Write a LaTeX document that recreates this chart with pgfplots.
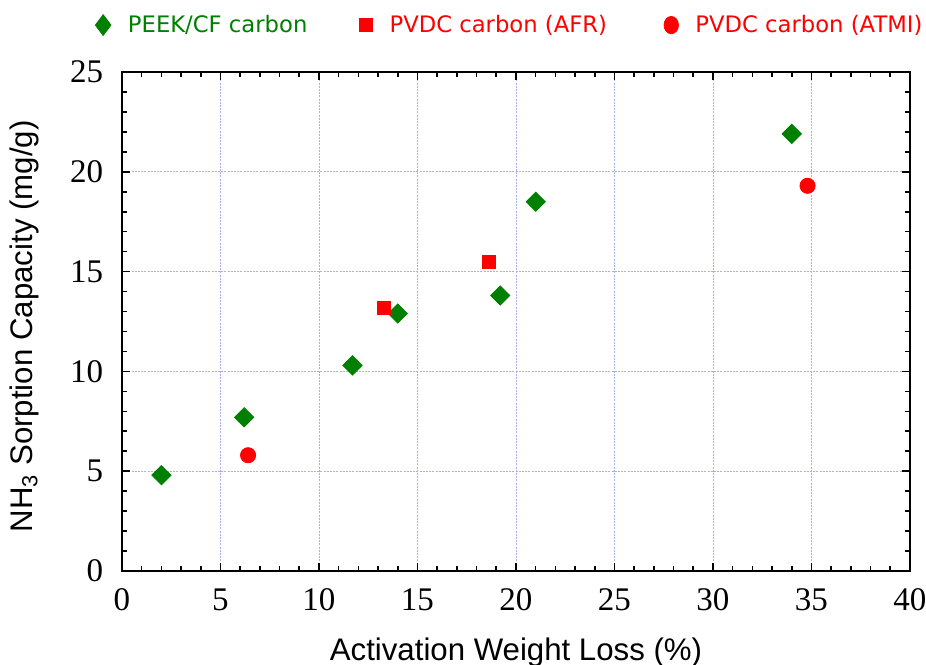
\documentclass[border=0pt]{standalone}
\usepackage{fontspec}
\setmainfont{Liberation Sans}
\newfontfamily\tickfont{Liberation Serif}
\newfontfamily\legfont{DejaVu Sans}
\usepackage{pgfplots}
\pgfplotsset{compat=1.18}
\definecolor{peek}{RGB}{0,128,0}
\definecolor{pvdc}{RGB}{255,0,0}
\definecolor{gridc}{RGB}{172,172,242}
\begin{document}
\begin{tikzpicture}
\useasboundingbox (-61pt,-46.5pt) rectangle (402pt,285.5pt);
\begin{axis}[
  at={(0,0)}, anchor=south west,
  scale only axis, width=394pt, height=249.5pt,
  xmin=0, xmax=40, ymin=0, ymax=25,
  xtick={0,5,...,40}, ytick={0,5,...,25},
  minor x tick num=4, minor y tick num=4,
  tick align=inside, tick pos=both,
  major tick length=4pt, minor tick length=2.5pt,
  axis line style={line width=1.3pt},
  every tick/.append style={black, line width=0.8pt},
  grid=major,
  major grid style={gridc, line width=0.45pt, dash pattern=on 1pt off 0.6pt},
  /pgf/number format/assume math mode=true,
  tick label style={font=\fontsize{16.5}{18}\tickfont, inner sep=0pt},
  xticklabel shift=8.5pt, yticklabel shift=9.25pt,
  xlabel={Activation Weight Loss (\%)},
  ylabel={NH\textsubscript{3} Sorption Capacity (mg/g)},
  label style={font=\fontsize{15.6}{17}\selectfont},
  xlabel style={at={(axis description cs:0.5,0)}, anchor=base, yshift=-44.5pt},
  ylabel style={at={(axis description cs:-0.1142,0.49)}, anchor=base, rotate=0},
  legend image code/.code={\draw[#1] plot coordinates {(0pt,0pt)};},
  legend columns=3,
  legend style={draw=none, fill=none, inner sep=0pt, nodes={inner sep=0pt},
    font=\fontsize{11.35}{13}\legfont,
    at={(-0.0343,1.094)}, anchor=west,
    /tikz/every odd column/.style={column sep=8.5pt},
    /tikz/column 2/.style={column sep=26pt},
    /tikz/column 4/.style={column sep=28.5pt}},
]
\addlegendimage{only marks, mark=diamond*, mark size=5.2pt, color=peek}
\addlegendimage{only marks, mark=square*, mark size=3.3pt, color=pvdc}
\addlegendimage{only marks, mark=*, mark size=3.6pt, mark options={yscale=1.2}, color=pvdc}
\legend{\textcolor{peek}{PEEK/CF carbon}, \textcolor{pvdc}{PVDC carbon (AFR)}, \textcolor{pvdc}{PVDC carbon (ATMI)}}

\addplot[only marks, mark=square*, mark size=3.4pt, mark options={rotate=45}, color=peek, forget plot]
  coordinates {(2.0,4.8) (6.2,7.7) (11.7,10.3) (14.0,12.9) (19.2,13.8) (21.0,18.5) (34.0,21.9)};
\addplot[only marks, mark=square*, mark size=3.25pt, color=pvdc, forget plot]
  coordinates {(13.3,13.2) (18.6,15.5)};
\addplot[only marks, mark=*, mark size=3.8pt, color=pvdc, forget plot]
  coordinates {(6.4,5.8) (34.8,19.3)};
\end{axis}
\end{tikzpicture}
\end{document}
